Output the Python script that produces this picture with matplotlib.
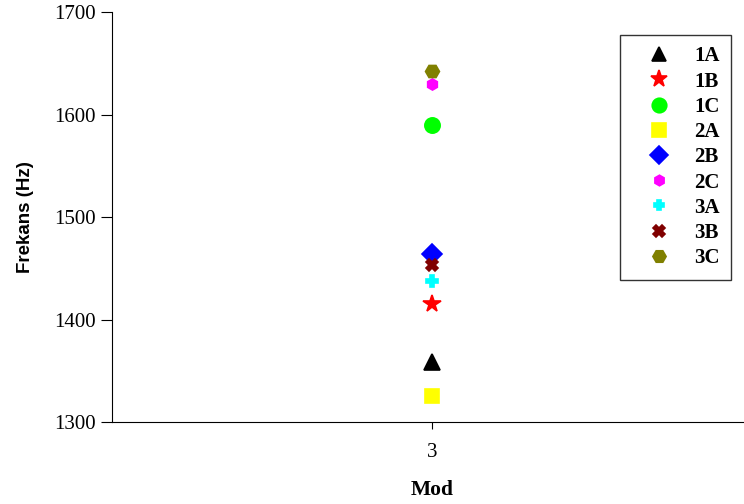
import matplotlib.pyplot as plt

# Frequencies (all at Mod 3)
labels = ['1A', '1B', '1C', '2A', '2B', '2C', '3A', '3B', '3C']
mods = [3, 3, 3, 3, 3, 3, 3, 3, 3]
freqs = [1359, 1415, 1590, 1325, 1464, 1630, 1438, 1453, 1642]
colors = ['black', 'red', '#00ff00', 'yellow', 'blue', 'magenta', 'cyan', 'maroon', 'olive']
markers = ['^', '*', 'o', 's', 'D', 'h', 'P', 'X', 'H']
sizes = [11, 13, 11, 10, 10, 8, 8, 9, 10]

serif = 'Liberation Serif'

fig = plt.figure(figsize=(7.44, 5.04), dpi=100)
ax = fig.add_axes([112 / 744, 82 / 504, 640 / 744, 410 / 504])

for m, f, c, mk, s, lab in zip(mods, freqs, colors, markers, sizes, labels):
    ax.plot(m, f, linestyle='none', marker=mk, color=c, markersize=s, label=lab,
            markeredgewidth=1.2, markeredgecolor=c)

ax.set_xlim(2.5, 3.5)
ax.set_ylim(1300, 1700)
ax.set_xticks([3])
ax.set_yticks([1300, 1400, 1500, 1600, 1700])
ax.spines['top'].set_visible(False)
ax.spines['right'].set_visible(False)
ax.tick_params(axis='y', direction='out', length=8, labelsize=15, pad=4)
ax.tick_params(axis='x', direction='out', length=5, labelsize=15, pad=10)
for t in ax.get_xticklabels() + ax.get_yticklabels():
    t.set_fontfamily(serif)

ax.set_ylabel('Frekans (Hz)', fontsize=13.5, fontweight='bold',
              fontfamily='Liberation Sans', labelpad=14)
ax.set_xlabel('Mod', fontsize=15.5, fontweight='bold', fontfamily=serif, labelpad=13)

leg = ax.legend(loc='upper left', bbox_to_anchor=(508 / 640, 1 - 23 / 410),
                frameon=True, fancybox=False, edgecolor='black',
                prop={'family': serif, 'weight': 'bold', 'size': 15},
                labelspacing=0.25, handlelength=2.6, handletextpad=0.4,
                borderpad=0.55, borderaxespad=0, markerscale=0.95)
leg.get_frame().set_linewidth(1.0)

fig.savefig('out.png', dpi=100)
